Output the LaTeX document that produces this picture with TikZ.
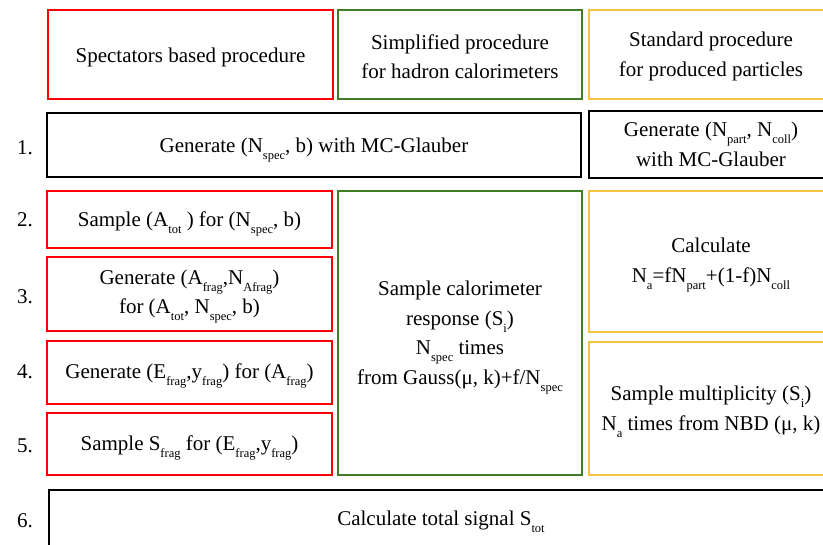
\documentclass[tikz,border=0pt]{standalone}
\usepackage{fontspec}
\setmainfont{Liberation Serif}
\definecolor{cred}{RGB}{255,0,0}
\definecolor{cgreen}{RGB}{62,125,36}
\definecolor{cyel}{RGB}{245,196,66}
\newcommand\sbs[1]{\raisebox{-7pt}[0pt][0pt]{\fontsize{12.5}{12.5}\selectfont #1}}
\begin{document}
\begin{tikzpicture}[x=1pt,y=-1pt,
  box/.style={draw, line width=2pt, rectangle, inner sep=0pt},
  redbox/.style={box, draw=cred},
  greenbox/.style={box, draw=cgreen},
  yelbox/.style={box, draw=cyel},
  blackbox/.style={box, draw=black, line width=2.3pt},
  txt/.style={inner sep=0pt, align=center, font=\fontsize{21}{29.5}\selectfont},
  num/.style={font=\fontsize{21}{23}\selectfont, inner sep=0pt}]
\useasboundingbox (0,0) rectangle (823,545);
\clip (0,0) rectangle (823,545);
% header
\node[redbox, minimum width=285pt, minimum height=89pt] (hr) at (190.5,54.5) {};
\node[greenbox, minimum width=244pt, minimum height=89pt] (hg) at (460,54.5) {};
\node[yelbox, minimum width=244pt, minimum height=89pt] (hy) at (711,54.5) {};
\node[txt] (hrT) at ([yshift=-3pt]hr.center) {Spectators based procedure};
\node[txt] (hgT) at ([yshift=-2pt]hg.center) {Simplified procedure\\for hadron calorimeters};
\node[txt] (hyT) at ([yshift=-2pt]hy.center) {Standard procedure\\for produced particles};
% row 1
\node[blackbox, minimum width=534pt, minimum height=64pt] (r1) at (314,145) {};
\node[blackbox, minimum width=244pt, minimum height=67pt] (r1y) at (711,144.5) {};
\node[txt] (r1T) at ([yshift=-2pt]r1.center) {Generate (N\sbs{spec}, b) with MC-Glauber};
\node[txt] (r1yT) at ([yshift=0pt]r1y.center) {Generate (N\sbs{part}, N\sbs{coll})\\with MC-Glauber};
% red steps
\node[redbox, minimum width=285pt, minimum height=57pt] (s2) at (189.5,219.5) {};
\node[redbox, minimum width=285pt, minimum height=74pt] (s3) at (189.5,294) {};
\node[redbox, minimum width=285pt, minimum height=63pt] (s4) at (189.5,372.5) {};
\node[redbox, minimum width=285pt, minimum height=62pt] (s5) at (189.5,444) {};
\node[txt] (s2T) at ([yshift=-2pt]s2.center) {Sample (A\sbs{tot} ) for (N\sbs{spec}, b)};
\node[txt] (s3T) at ([yshift=0pt]s3.center) {Generate (A\sbs{frag},N\sbs{Afrag})\\for (A\sbs{tot}, N\sbs{spec}, b)};
\node[txt] (s4T) at ([yshift=-1pt]s4.center) {Generate (E\sbs{frag},y\sbs{frag}) for (A\sbs{frag})};
\node[txt] (s5T) at ([yshift=-1pt]s5.center) {Sample S\sbs{frag} for (E\sbs{frag},y\sbs{frag})};
% green
\node[greenbox, minimum width=244pt, minimum height=284pt] (g) at (460,333) {};
\node[txt] (gT) at ([yshift=-2pt]g.center) {Sample calorimeter\\response (S\sbs{i})\\N\sbs{spec} times\\from Gauss(μ, k)+f/N\sbs{spec}};
% yellow
\node[yelbox, minimum width=244pt, minimum height=141pt] (y1) at (711,261.5) {};
\node[yelbox, minimum width=244pt, minimum height=133pt] (y2) at (711,408.5) {};
\node[txt] (y1T) at ([yshift=-1pt]y1.center) {Calculate\\N\sbs{a}=fN\sbs{part}+(1-f)N\sbs{coll}};
\node[txt] (y2T) at ([yshift=-2pt]y2.center) {Sample multiplicity (S\sbs{i})\\N\sbs{a} times from NBD (μ, k)};
% row 6
\node[blackbox, minimum width=784pt, minimum height=62pt] (r6) at (441,521) {};
\node[txt] (r6T) at ([yshift=1pt]r6.center) {Calculate total signal S\sbs{tot}};
% numbers
\node[num] (n1) at (25,148) {1.};
\node[num] (n2) at (25,220) {2.};
\node[num] (n3) at (25,297) {3.};
\node[num] (n4) at (25,372) {4.};
\node[num] (n5) at (25,446) {5.};
\node[num] (n6) at (25,521) {6.};
\end{tikzpicture}
\end{document}
